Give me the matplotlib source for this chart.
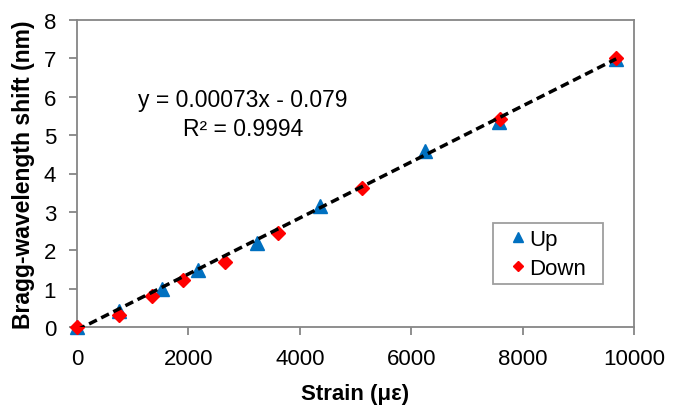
import matplotlib
matplotlib.use("Agg")
import matplotlib.pyplot as plt
from matplotlib.legend_handler import HandlerLine2D
import numpy as np

plt.rcParams['font.family'] = ['Liberation Sans', 'DejaVu Sans']

# Data
up_strain = [0, 760, 1519, 2176, 3223, 4359, 6255, 7575, 9680]
up_shift = [0.0, 0.42, 0.99, 1.48, 2.20, 3.16, 4.59, 5.35, 6.98]
down_strain = [0, 760, 1340, 1907, 2655, 3611, 5124, 7600, 9680]
down_shift = [0.0, 0.31, 0.80, 1.22, 1.70, 2.46, 3.61, 5.42, 7.02]
fit_slope = 0.00073
fit_intercept = -0.079
fit_r2 = 0.9994
x_ticks = [0, 2000, 4000, 6000, 8000, 10000]
y_ticks = [0, 1, 2, 3, 4, 5, 6, 7, 8]

W, H = 673, 410
fig = plt.figure(figsize=(W/100, H/100), dpi=100)
ax = fig.add_axes([77/W, 1 - 328/H, (634 - 77)/W, (328 - 21)/H])

gray = '#868686'
fit_x = np.array([0, max(max(up_strain), max(down_strain))])
fit_y = fit_slope * fit_x + fit_intercept

up_line, = ax.plot(up_strain, up_shift, linestyle='none', marker='^', markersize=10,
                   color='#0070C0', label='Up', zorder=3, clip_on=False)
down_line, = ax.plot(down_strain, down_shift, linestyle='none', marker='D',
                     markersize=7.5, color='#FF0000', label='Down', zorder=4,
                     clip_on=False)
ax.plot(fit_x, fit_y, linestyle=(0, (2.5, 1.4)), color='black', linewidth=2.5,
        zorder=5)

ax.set_xlim(0, 10000)
ax.set_ylim(0, 8)
ax.set_xticks(x_ticks)
ax.set_yticks(y_ticks)
ax.tick_params(axis='both', labelsize=16, color=gray, width=1.3, length=6,
               direction='out')
ax.tick_params(axis='x', pad=9)
ax.tick_params(axis='y', pad=9)
for s in ax.spines.values():
    s.set_color(gray)
    s.set_linewidth(1.3)

ax.set_xlabel('Strain (\u03bc\u03b5)', fontsize=16, fontweight='bold', labelpad=10)
ax.set_ylabel('Bragg-wavelength shift (nm)', fontsize=16.5, fontweight='bold',
              labelpad=6)

fig.text(243/W, 1 - 101/H, f'y = {fit_slope:.5f}x - {abs(fit_intercept):.3f}',
         fontsize=16.5, ha='center', va='center')
fig.text(243/W, 1 - 129/H, f'R\u00b2 = {fit_r2}', fontsize=16.5,
         ha='center', va='center')

x0 = (493 - 77) / 557
wl = (603 - 493) / 557
ytop = 1 - (224 - 21) / 307
hmap = {up_line: HandlerLine2D(xpad=0.58), down_line: HandlerLine2D(xpad=0.58)}
leg = ax.legend(loc='upper left', bbox_to_anchor=(x0, ytop - 0.25, wl, 0.25),
                mode='expand', borderaxespad=0, handler_map=hmap,
                fontsize=16, frameon=True, fancybox=False, handlelength=1.19,
                handletextpad=0.2, borderpad=0.25, labelspacing=0.36,
                markerscale=0.7)
leg.get_frame().set_edgecolor(gray)
leg.get_frame().set_linewidth(1.3)

fig.savefig('out.png', dpi=100)
